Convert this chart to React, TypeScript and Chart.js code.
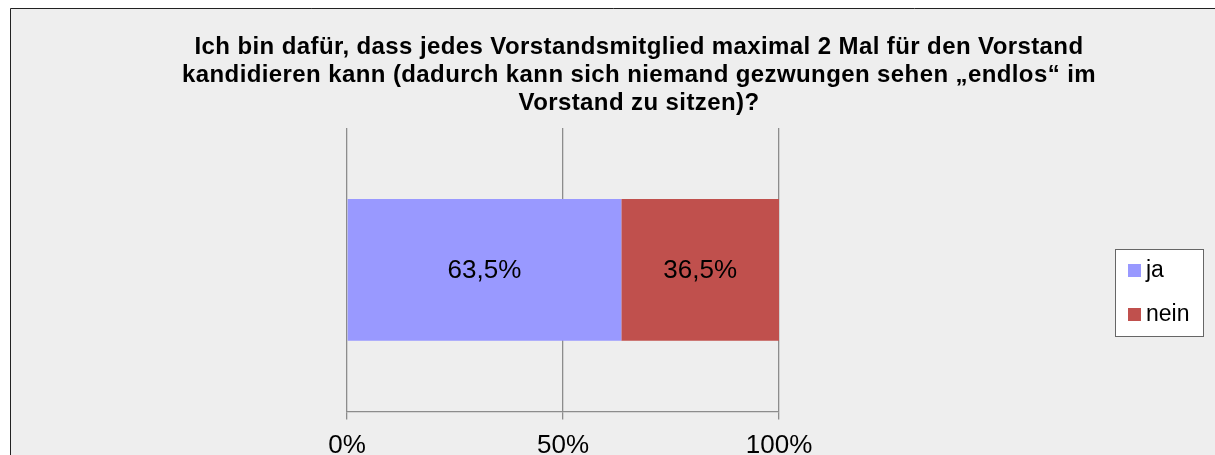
import React, { useEffect, useRef } from "react";
import { Chart, registerables } from "chart.js";

Chart.register(...registerables);

const titleLines: string[] = [
  "Ich bin dafür, dass jedes Vorstandsmitglied maximal 2 Mal für den Vorstand",
  "kandidieren kann (dadurch kann sich niemand gezwungen sehen „endlos“ im",
  "Vorstand zu sitzen)?",
];
const categories: string[] = [""];
const seriesLabels: string[] = ["ja", "nein"];
const jaValues: number[] = [63.5];
const neinValues: number[] = [36.5];
const seriesColors: string[] = ["#9999ff", "#c0504d"];
const tickValues: number[] = [0, 50, 100];

const FONT = "'Liberation Sans', Arial, sans-serif";
const fmt = (v: number) => v.toFixed(1).replace(".", ",") + "%";

const decorPlugin = {
  id: "decor",
  beforeDraw(chart: any) {
    const ctx = chart.ctx;
    ctx.save();
    ctx.fillStyle = "#ffffff";
    ctx.fillRect(0, 0, chart.width, chart.height);
    ctx.fillStyle = "#eeeeee";
    ctx.fillRect(10, 8, chart.width, chart.height);
    ctx.strokeStyle = "#222222";
    ctx.lineWidth = 1;
    ctx.beginPath();
    ctx.moveTo(10.5, chart.height + 10);
    ctx.lineTo(10.5, 8.5);
    ctx.lineTo(chart.width + 10, 8.5);
    ctx.stroke();
    // title
    ctx.fillStyle = "#000000";
    ctx.font = `bold 24px ${FONT}`;
    try { (ctx as any).letterSpacing = "0.4px"; } catch (e) {}
    ctx.textAlign = "center";
    ctx.textBaseline = "alphabetic";
    titleLines.forEach((line, i) => {
      ctx.fillText(line, 639, 54 + i * 28);
    });
    try { (ctx as any).letterSpacing = "0px"; } catch (e) {}
    ctx.restore();
  },
  afterDatasetsDraw(chart: any) {
    const ctx = chart.ctx;
    ctx.save();
    ctx.font = `26px ${FONT}`;
    ctx.fillStyle = "#000000";
    ctx.textAlign = "center";
    ctx.textBaseline = "middle";
    chart.data.datasets.forEach((ds: any, di: number) => {
      const meta = chart.getDatasetMeta(di);
      meta.data.forEach((el: any, i: number) => {
        const cx = (el.x + el.base) / 2;
        ctx.fillText(fmt(ds.data[i]), cx, el.y + 1);
      });
    });
    // legend
    const lx = 1115.5, ly = 249.5, lw = 88, lh = 87;
    ctx.fillStyle = "#ffffff";
    ctx.fillRect(lx, ly, lw, lh);
    ctx.strokeStyle = "#666666";
    ctx.lineWidth = 1;
    ctx.strokeRect(lx, ly, lw, lh);
    ctx.font = `23px ${FONT}`;
    ctx.textAlign = "left";
    ctx.textBaseline = "middle";
    chart.data.datasets.forEach((ds: any, di: number) => {
      const y = 270.5 + di * 44;
      ctx.fillStyle = ds.backgroundColor;
      ctx.fillRect(1128, y - 6.5, 13, 13);
      ctx.fillStyle = "#000000";
      ctx.fillText(ds.label, 1146, y);
    });
    ctx.restore();
  },
};

export default function App() {
  const ref = useRef<HTMLCanvasElement>(null);
  useEffect(() => {
    if (!ref.current) return;
    const chart = new Chart(ref.current, {
      type: "bar",
      data: {
        labels: categories,
        datasets: [
          { label: seriesLabels[0], data: jaValues, backgroundColor: seriesColors[0], barPercentage: 1, categoryPercentage: 0.5 },
          { label: seriesLabels[1], data: neinValues, backgroundColor: seriesColors[1], barPercentage: 1, categoryPercentage: 0.5 },
        ],
      },
      options: {
        indexAxis: "y",
        animation: false,
        responsive: false,
        layout: { padding: { left: 347, right: 436, top: 128, bottom: 0.5 } },
        plugins: {
          legend: { display: false },
          title: { display: false },
          tooltip: { enabled: false },
        },
        scales: {
          x: {
            stacked: true,
            min: 0,
            max: 100,
            afterBuildTicks: (axis: any) => {
              axis.ticks = tickValues.map((v) => ({ value: v }));
            },
            grid: { color: "#8c8c8c", lineWidth: 1.3, tickLength: 8, drawOnChartArea: true },
            border: { color: "#8c8c8c", width: 1.3 },
            ticks: {
              color: "#000000",
              font: { family: FONT, size: 26, lineHeight: 1.0 },
              padding: 13,
              maxRotation: 0,
              callback: (v: any) => v + "%",
            },
          },
          y: { stacked: true, display: false },
        },
      },
      plugins: [decorPlugin],
    });
    return () => chart.destroy();
  }, []);
  return (
    <div style={{ position: "fixed", left: 0, top: 0, width: 1215, height: 455, overflow: "hidden" }}>
      <canvas ref={ref} width={1215} height={472} style={{ display: "block", width: 1215, height: 472 }} />
    </div>
  );
}
